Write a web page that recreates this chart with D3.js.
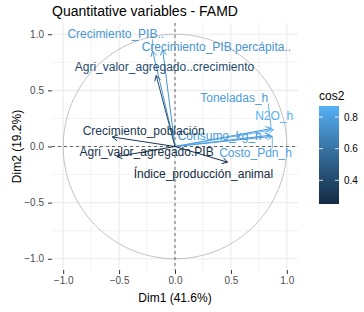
<!DOCTYPE html>
<html>
<head>
<meta charset="utf-8">
<script src="https://cdn.jsdelivr.net/npm/d3@7"></script>
<style>
  body { margin: 0; background: #fff; }
  text { font-family: "Liberation Sans", Arial, sans-serif; }
</style>
</head>
<body>
<svg id="chart" width="364" height="312"></svg>
<script>
// variable names and their coordinates on Dim1 / Dim2
const varNames = ["Crecimiento_PIB..", "Crecimiento_PIB.percápita..", "Agri_valor_agregado..crecimiento",
    "Toneladas_h", "N2O_h", "Consumo_kg_h", "Costo_Pdn_h",
    "Crecimiento_población", "Agri_valor_agregado.PIB", "Índice_producción_animal"];
const dim1 = [-0.20, -0.11, -0.168, 0.86, 0.88, 0.85, 0.87, -0.56, -0.52, 0.47];
const dim2 = [0.85, 0.86, 0.632, 0.16, 0.15, 0.10, 0.09, 0.085, -0.09, -0.14];
const cos2 = [0.76, 0.75, 0.41, 0.78, 0.87, 0.77, 0.80, 0.32, 0.28, 0.25];
// repelled label centres (data units)
const labelX = [-0.53, 0.37, -0.094, 0.53, 0.887, 0.40, 0.72, -0.28, -0.254, 0.254];
const labelY = [1.00, 0.89, 0.71, 0.43, 0.27, 0.092, -0.057, 0.142, -0.051, -0.244];

const axisTicks = [-1.0, -0.5, 0.0, 0.5, 1.0];
const minorTicks = [-0.75, -0.25, 0.25, 0.75];
const legendTicks = [0.4, 0.6, 0.8];

const svg = d3.select("#chart");
const panel = {left: 52, right: 298, top: 23, bottom: 270};

const x = d3.scaleLinear().domain([-1.1, 1.1]).range([panel.left, panel.right]);
const y = d3.scaleLinear().domain([-1.1, 1.1]).range([panel.bottom, panel.top]);

const cosExtent = d3.extent(cos2);
const color = d3.scaleLinear().domain(cosExtent).range(["#132B43", "#56B1F7"]).interpolate(d3.interpolateLab);

// grid
const grid = svg.append("g");
grid.selectAll(".minx").data(minorTicks).enter().append("line")
    .attr("x1", d => x(d)).attr("x2", d => x(d))
    .attr("y1", panel.top).attr("y2", panel.bottom)
    .attr("stroke", "#EBEBEB").attr("stroke-width", 0.6);
grid.selectAll(".miny").data(minorTicks).enter().append("line")
    .attr("y1", d => y(d)).attr("y2", d => y(d))
    .attr("x1", panel.left).attr("x2", panel.right)
    .attr("stroke", "#EBEBEB").attr("stroke-width", 0.6);
grid.selectAll(".majx").data(axisTicks).enter().append("line")
    .attr("x1", d => x(d)).attr("x2", d => x(d))
    .attr("y1", panel.top).attr("y2", panel.bottom)
    .attr("stroke", "#EBEBEB").attr("stroke-width", 1.1);
grid.selectAll(".majy").data(axisTicks).enter().append("line")
    .attr("y1", d => y(d)).attr("y2", d => y(d))
    .attr("x1", panel.left).attr("x2", panel.right)
    .attr("stroke", "#EBEBEB").attr("stroke-width", 1.1);

// correlation circle
const circ = d3.range(0, 361, 2).map(a => [Math.cos(a * Math.PI / 180), Math.sin(a * Math.PI / 180)]);
svg.append("path")
    .attr("d", d3.line().x(d => x(d[0])).y(d => y(d[1]))(circ))
    .attr("fill", "none").attr("stroke", "#B3B3B3").attr("stroke-width", 0.8);

// dashed zero lines
svg.append("line").attr("x1", x(0)).attr("x2", x(0)).attr("y1", panel.top).attr("y2", panel.bottom)
    .attr("stroke", "#444").attr("stroke-width", 0.8).attr("stroke-dasharray", "3,3");
svg.append("line").attr("y1", y(0)).attr("y2", y(0)).attr("x1", panel.left).attr("x2", panel.right)
    .attr("stroke", "#444").attr("stroke-width", 0.8).attr("stroke-dasharray", "3,3");

// axes
const fmt = d3.format(".1f");
const xAxis = svg.append("g").attr("transform", `translate(0,${panel.bottom})`)
    .call(d3.axisBottom(x).tickValues(axisTicks).tickSize(4).tickPadding(3).tickFormat(fmt));
const yAxis = svg.append("g").attr("transform", `translate(${panel.left},0)`)
    .call(d3.axisLeft(y).tickValues(axisTicks).tickSize(4).tickPadding(4).tickFormat(fmt));
[xAxis, yAxis].forEach(a => {
    a.select(".domain").remove();
    a.selectAll(".tick line").attr("stroke", "#333").attr("stroke-width", 1);
    a.selectAll(".tick text").attr("fill", "#4D4D4D").attr("font-size", "10px")
        .attr("font-family", "Liberation Sans, Arial, sans-serif");
});

// arrows
const rows = varNames.map((n, i) => ({name: n, x: dim1[i], y: dim2[i], c: cos2[i], lx: labelX[i], ly: labelY[i]}));
const headLen = 6, headAng = Math.PI / 6;
const arrows = svg.append("g");
rows.forEach(d => {
    const x0 = x(0), y0 = y(0), x1 = x(d.x), y1 = y(d.y);
    const ang = Math.atan2(y1 - y0, x1 - x0);
    const col = color(d.c);
    arrows.append("line").attr("x1", x0).attr("y1", y0).attr("x2", x1).attr("y2", y1)
        .attr("stroke", col).attr("stroke-width", 1);
    const p1 = [x1 - headLen * Math.cos(ang - headAng), y1 - headLen * Math.sin(ang - headAng)];
    const p2 = [x1 - headLen * Math.cos(ang + headAng), y1 - headLen * Math.sin(ang + headAng)];
    arrows.append("path").attr("d", `M${p1}L${x1},${y1}L${p2}`)
        .attr("fill", "none").attr("stroke", col).attr("stroke-width", 1);
});

// labels (with repel-style segments when far from the arrow tip)
const labels = svg.append("g");
rows.forEach(d => {
    const col = color(d.c);
    const t = labels.append("text")
        .attr("x", x(d.lx)).attr("y", y(d.ly)).attr("dy", "0.35em")
        .attr("text-anchor", "middle").attr("font-size", "12px")
        .attr("fill", col).text(d.name);
    const b = t.node().getBBox();
    const px = x(d.x), py = y(d.y);
    const nx = Math.max(b.x, Math.min(px, b.x + b.width));
    const ny = Math.max(b.y + 2, Math.min(py, b.y + b.height - 2));
    const dist = Math.hypot(px - nx, py - ny);
    if (dist > 10) {
        labels.insert("line", "text").attr("x1", nx).attr("y1", ny).attr("x2", px).attr("y2", py)
            .attr("stroke", col).attr("stroke-width", 0.8);
    }
});

// title and axis titles
svg.append("text").attr("x", panel.left).attr("y", 16).attr("font-size", "14px").attr("fill", "#000")
    .text("Quantitative variables - FAMD");
svg.append("text").attr("x", (panel.left + panel.right) / 2).attr("y", 302)
    .attr("text-anchor", "middle").attr("font-size", "12px").text("Dim1 (41.6%)");
svg.append("text").attr("transform", `translate(21,${(panel.top + panel.bottom) / 2}) rotate(-90)`)
    .attr("text-anchor", "middle").attr("font-size", "12px").text("Dim2 (19.2%)");

// legend
const bar = {x: 319, w: 20, top: 106, bottom: 204};
const ly = d3.scaleLinear().domain(cosExtent).range([bar.bottom, bar.top]);
const defs = svg.append("defs");
const grad = defs.append("linearGradient").attr("id", "cosgrad")
    .attr("x1", "0%").attr("y1", "100%").attr("x2", "0%").attr("y2", "0%");
d3.range(0, 1.0001, 0.1).forEach(t => {
    grad.append("stop").attr("offset", (t * 100) + "%")
        .attr("stop-color", color(cosExtent[0] + t * (cosExtent[1] - cosExtent[0])));
});
const legend = svg.append("g");
legend.append("text").attr("x", bar.x).attr("y", 100).attr("font-size", "12px").text("cos2");
legend.append("rect").attr("x", bar.x).attr("y", bar.top).attr("width", bar.w)
    .attr("height", bar.bottom - bar.top).attr("fill", "url(#cosgrad)");
legendTicks.forEach(v => {
    legend.append("line").attr("x1", bar.x).attr("x2", bar.x + 4).attr("y1", ly(v)).attr("y2", ly(v))
        .attr("stroke", "#fff").attr("stroke-width", 0.8);
    legend.append("line").attr("x1", bar.x + bar.w - 4).attr("x2", bar.x + bar.w).attr("y1", ly(v)).attr("y2", ly(v))
        .attr("stroke", "#fff").attr("stroke-width", 0.8);
    legend.append("text").attr("x", bar.x + bar.w + 5).attr("y", ly(v)).attr("dy", "0.35em")
        .attr("font-size", "10px").attr("fill", "#000").text(fmt(v));
});
</script>
</body>
</html>
